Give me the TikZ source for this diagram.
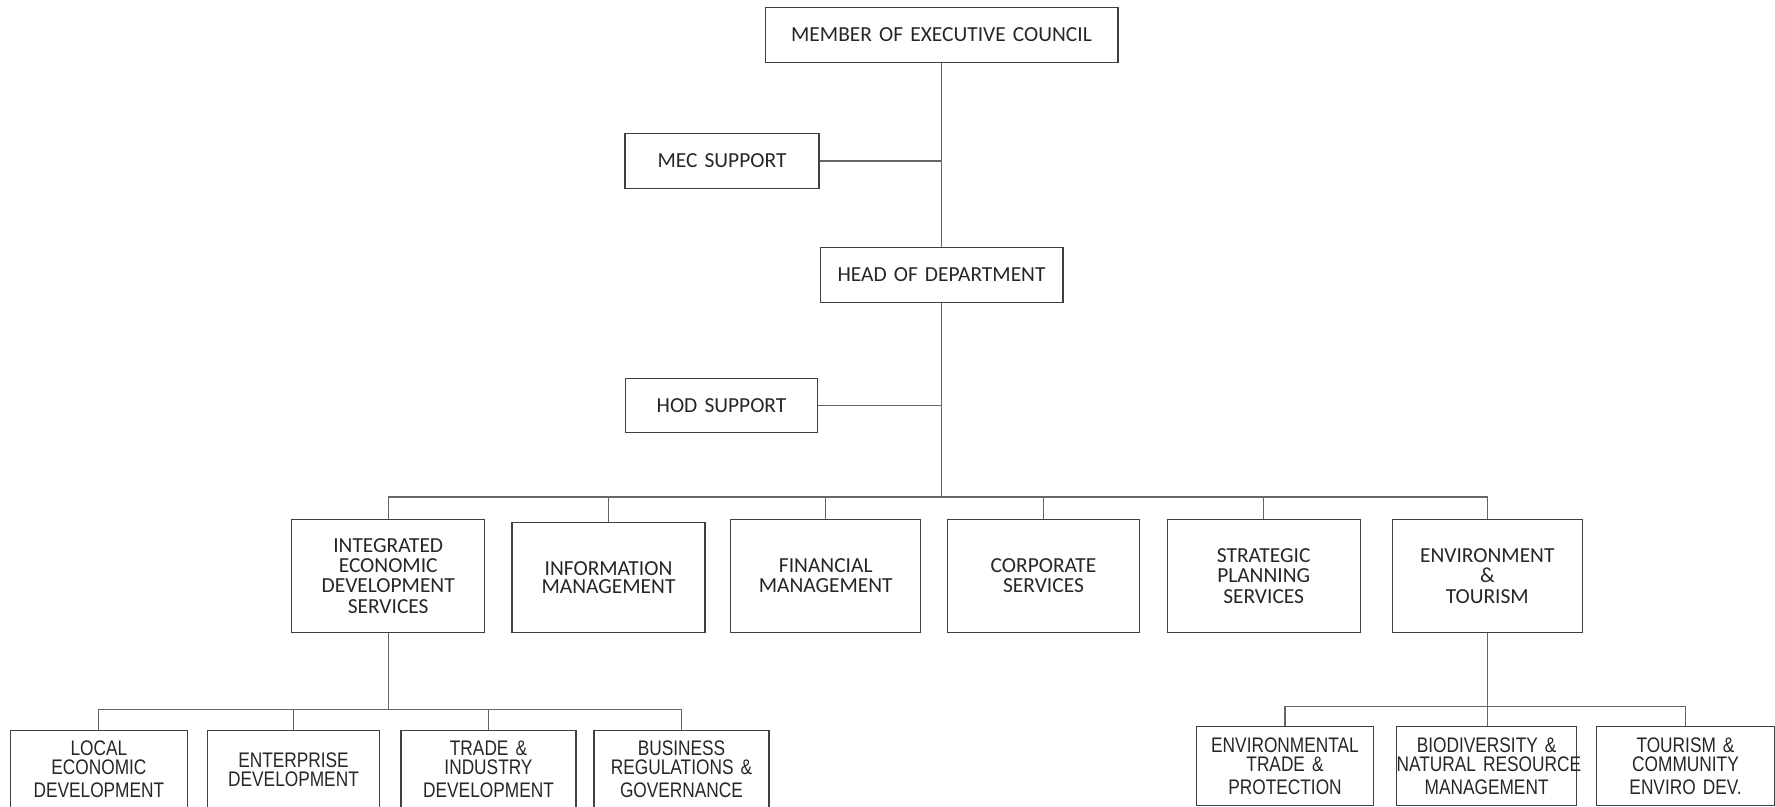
\documentclass[tikz,border=0pt]{standalone}
\usepackage{fontspec}
\setmainfont{Carlito}
\newfontfamily\narrowsans[FakeStretch=0.82]{Liberation Sans}

\tikzset{
  unit/.style={draw=black!75, line width=0.6pt, text=black!85, inner sep=0pt,
    align=center, font=\fontsize{12.2}{11.4}\selectfont},
  unitsub/.style={unit, font=\narrowsans\fontsize{12}{10.8}\selectfont},
  link/.style={draw=black!60, line width=0.6pt},
}

\begin{document}
\begin{tikzpicture}[x=0.02cm,y=-0.02cm]
  \clip (0,0) rectangle (1775,807);

  % top of the chart
  \node[unit, text width=7.06cm, minimum height=1.09cm] (mec) at (941.5,34.8) {MEMBER OF EXECUTIVE COUNCIL};
  \node[unit, text width=3.88cm, minimum height=1.10cm] (mecsup) at (722,161) {MEC SUPPORT};
  \node[unit, text width=4.86cm, minimum height=1.09cm] (hod) at (941.5,275) {HEAD OF DEPARTMENT};
  \node[unit, text width=3.85cm, minimum height=1.09cm] (hodsup) at (721.5,405.7) {HOD SUPPORT};

  % branches
  \node[unit, text width=3.85cm, minimum height=2.25cm] (ieds) at (388.2,576.1) {INTEGRATED\\ECONOMIC\\DEVELOPMENT\\SERVICES};
  \node[unit, text width=3.86cm, minimum height=2.20cm, font=\fontsize{12.2}{10.2}\selectfont] (info) at (608.5,577.3) {INFORMATION\\MANAGEMENT};
  \node[unit, text width=3.80cm, minimum height=2.25cm] (fin) at (825.7,576.1) {FINANCIAL\\MANAGEMENT};
  \node[unit, text width=3.85cm, minimum height=2.25cm] (corp) at (1043.5,576.1) {CORPORATE\\SERVICES\\[9pt]};
  \node[unit, text width=3.86cm, minimum height=2.25cm] (strat) at (1263.7,576.1) {STRATEGIC\\PLANNING\\SERVICES};
  \node[unit, text width=3.81cm, minimum height=2.25cm] (env) at (1487.3,576.1) {ENVIRONMENT\\\&\\TOURISM};

  % sub-units
  \node[unitsub, text width=3.53cm, minimum height=1.56cm] (led) at (98.9,769.5) {LOCAL\\ECONOMIC\\[2.3pt]DEVELOPMENT};
  \node[unitsub, text width=3.44cm, minimum height=1.56cm] (ed) at (293.5,769.5) {ENTERPRISE\\DEVELOPMENT\\[8pt]};
  \node[unitsub, text width=3.50cm, minimum height=1.56cm] (tid) at (488.5,769.5) {TRADE~\&\\INDUSTRY\\[2.3pt]DEVELOPMENT};
  \node[unitsub, text width=3.50cm, minimum height=1.56cm] (brg) at (681.5,769.5) {BUSINESS\\REGULATIONS~\&\\[2.3pt]GOVERNANCE};
  \node[unitsub, text width=3.55cm, minimum height=1.59cm] (etp) at (1285,765.9) {ENVIRONMENTAL\\TRADE~\&\\[2.3pt]PROTECTION};
  \node[unitsub, text width=3.60cm, minimum height=1.59cm] (bnr) at (1486.6,765.9) {BIODIVERSITY~\&\\\mbox{NATURAL RESOURCE}\\[2.3pt]MANAGEMENT};
  \node[unitsub, text width=3.55cm, minimum height=1.59cm] (tce) at (1685.5,765.9) {TOURISM~\&\\COMMUNITY\\[2.3pt]ENVIRO~DEV.};

  % lines
  \coordinate (bus) at (941.5,497);
  \draw[link] (mec) -- (hod);
  \draw[link] (mecsup.east) -- (mecsup.east -| mec.south);
  \draw[link] (hod.south) -- (bus);
  \draw[link] (hodsup.east) -- (hodsup.east -| hod.south);
  \draw[link] (ieds.north) -- (ieds.north |- bus) -- (env.north |- bus) -- (env.north);
  \foreach \n in {info,fin,corp,strat}
    \draw[link] (\n.north) -- (\n.north |- bus);

  \path (ieds.south) ++(0,77) coordinate (iedsjoin);
  \draw[link] (ieds.south) -- (iedsjoin);
  \draw[link] (led.north) -- (led.north |- iedsjoin) -- (brg.north |- iedsjoin) -- (brg.north);
  \foreach \n in {ed,tid}
    \draw[link] (\n.north) -- (\n.north |- iedsjoin);

  \path (env.south) ++(0,73.4) coordinate (envjoin);
  \draw[link] (env.south) -- (env.south |- bnr.north);
  \draw[link] (etp.north) -- (etp.north |- envjoin) -- (tce.north |- envjoin) -- (tce.north);
\end{tikzpicture}
\end{document}
